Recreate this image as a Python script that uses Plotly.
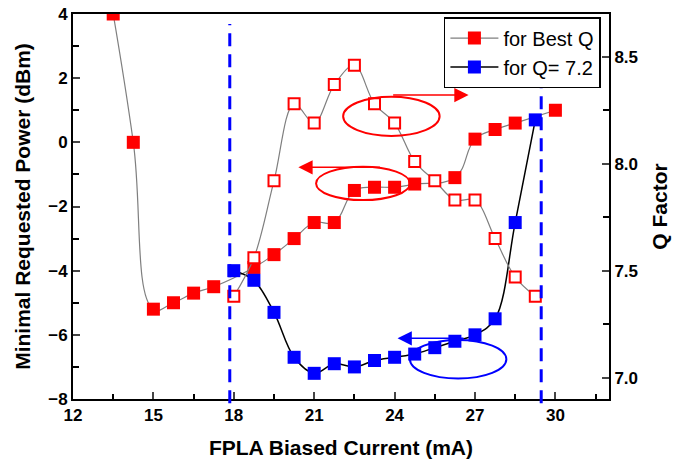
import plotly.graph_objects as go

# ---- data ----
current_best = [13.5, 14.25, 15.0, 15.75, 16.5, 17.25, 18.75, 19.5, 20.25, 21.0, 21.75,
                22.5, 23.25, 24.0, 24.75, 26.25, 27.0, 27.75, 28.5, 30.0]
power_best = [4.0, 0.0, -5.2, -5.0, -4.7, -4.5, -3.9, -3.5, -3.0, -2.5, -2.5,
              -1.5, -1.4, -1.4, -1.3, -1.1, 0.1, 0.4, 0.6, 1.0]

current_q = [18.0, 18.75, 19.5, 20.25, 21.0, 21.75, 22.5, 23.25, 24.0, 24.75, 25.5,
             26.25, 27.0, 27.75, 28.5, 29.25]
q_factor = [7.38, 7.56, 7.92, 8.28, 8.19, 8.37, 8.46, 8.28, 8.19, 8.01, 7.92,
            7.83, 7.83, 7.65, 7.47, 7.38]

current_fixed = [18.0, 18.75, 19.5, 20.25, 21.0, 21.75, 22.5, 23.25, 24.0, 24.75, 25.5,
                 26.25, 27.0, 27.75, 28.5, 29.25]
power_fixed = [-4.0, -4.3, -5.3, -6.7, -7.2, -6.9, -7.0, -6.8, -6.7, -6.6, -6.4,
               -6.2, -6.0, -5.5, -2.5, 0.7]

limit_currents = [17.85, 29.47]

FONT = "Liberation Sans, Arial, sans-serif"
RED = "#FF0000"
BLUE = "#0000FF"

fig = go.Figure()

fig.add_trace(go.Scatter(
    x=current_best, y=power_best, name="for Best Q", mode="lines+markers",
    line=dict(color="#7f7f7f", width=1.2, shape="spline", smoothing=1.2),
    marker=dict(symbol="square", size=13, color=RED),
))
fig.add_trace(go.Scatter(
    x=current_fixed, y=power_fixed, name="for Q= 7.2", mode="lines+markers",
    line=dict(color="black", width=1.5, shape="spline", smoothing=1.0),
    marker=dict(symbol="square", size=13, color=BLUE),
))
fig.add_trace(go.Scatter(
    x=current_q, y=q_factor, yaxis="y2", mode="lines+markers", showlegend=False,
    line=dict(color="#7f7f7f", width=1.2, shape="spline", smoothing=1.0),
    marker=dict(symbol="square", size=11, color="white", line=dict(color=RED, width=2)),
))

shapes = []
for xc in limit_currents:
    shapes.append(dict(type="line", xref="x", yref="paper", x0=xc, x1=xc, y0=-0.011, y1=0.974,
                       line=dict(color=BLUE, width=3, dash="13px,8px")))
# ellipses
shapes.append(dict(type="circle", xref="x", yref="y", x0=22.08, x1=25.68, y0=0.2, y1=1.42,
                   line=dict(color=RED, width=2)))
shapes.append(dict(type="circle", xref="x", yref="y", x0=21.07, x1=24.57, y0=-1.80, y1=-0.76,
                   line=dict(color=RED, width=2)))
shapes.append(dict(type="circle", xref="x", yref="y", x0=24.57, x1=28.17, y0=-7.36, y1=-6.16,
                   line=dict(color=BLUE, width=2)))

annotations = [
    dict(x=26.76, y=1.475, ax=23.89, ay=1.475, xref="x", yref="y", axref="x", ayref="y",
         text="", showarrow=True, arrowhead=2, arrowsize=1.9, arrowwidth=1.5, arrowcolor=RED),
    dict(x=20.41, y=-0.78, ax=23.51, ay=-0.78, xref="x", yref="y", axref="x", ayref="y",
         text="", showarrow=True, arrowhead=2, arrowsize=1.9, arrowwidth=1.5, arrowcolor=RED),
    dict(x=24.11, y=-6.11, ax=26.63, ay=-6.11, xref="x", yref="y", axref="x", ayref="y",
         text="", showarrow=True, arrowhead=2, arrowsize=1.9, arrowwidth=1.5, arrowcolor=BLUE),
]

tickfont = dict(family=FONT, size=17, color="black", weight="bold")
titlefont = dict(family=FONT, size=21, color="black", weight="bold")

fig.update_layout(
    width=683, height=460,
    margin=dict(l=73, r=74, t=14, b=61, autoexpand=False),
    paper_bgcolor="white", plot_bgcolor="white",
    font=dict(family=FONT, color="black"),
    shapes=shapes, annotations=annotations,
    xaxis=dict(range=[12, 32], tick0=12, dtick=3, ticks="inside", ticklen=7, tickwidth=2,
               showline=True, linewidth=2, linecolor="black", mirror=True, showgrid=False,
               zeroline=False, tickfont=tickfont, automargin=False,
               minor=dict(ticks="inside", tick0=12, dtick=1.5, ticklen=5, tickwidth=2, tickcolor="black", showgrid=False),
               title=dict(text="FPLA Biased Current (mA)", font=titlefont, standoff=16)),
    yaxis=dict(range=[-8, 4], tick0=-8, dtick=2, ticks="inside", ticklen=7, tickwidth=2,
               showline=True, linewidth=2, linecolor="black", mirror=True, showgrid=False,
               zeroline=False, tickfont=tickfont, automargin=False,
               minor=dict(ticks="inside", tick0=-8, dtick=1, ticklen=6, tickwidth=2, tickcolor="black", showgrid=False),
               title=dict(text="Minimal Requested Power (dBm)", font=titlefont, standoff=12)),
    yaxis2=dict(range=[6.9, 8.7], overlaying="y", side="right", tick0=7, dtick=0.5, tickformat=".1f",
                ticks="inside", ticklen=7, tickwidth=2, showline=True, linewidth=2, linecolor="black",
                showgrid=False, zeroline=False, tickfont=tickfont, automargin=False,
                minor=dict(ticks="inside", tick0=7, dtick=0.25, ticklen=6, tickwidth=2, tickcolor="black", showgrid=False),
                title=dict(text="Q Factor", font=titlefont, standoff=15)),
    legend=dict(x=0.692, y=0.992, xanchor="left", yanchor="top", bgcolor="white",
                bordercolor="black", borderwidth=1.5, font=dict(family=FONT, size=20, color="black"),
                tracegroupgap=0, itemwidth=48),
    showlegend=True,
)

fig.write_html("out.html")
